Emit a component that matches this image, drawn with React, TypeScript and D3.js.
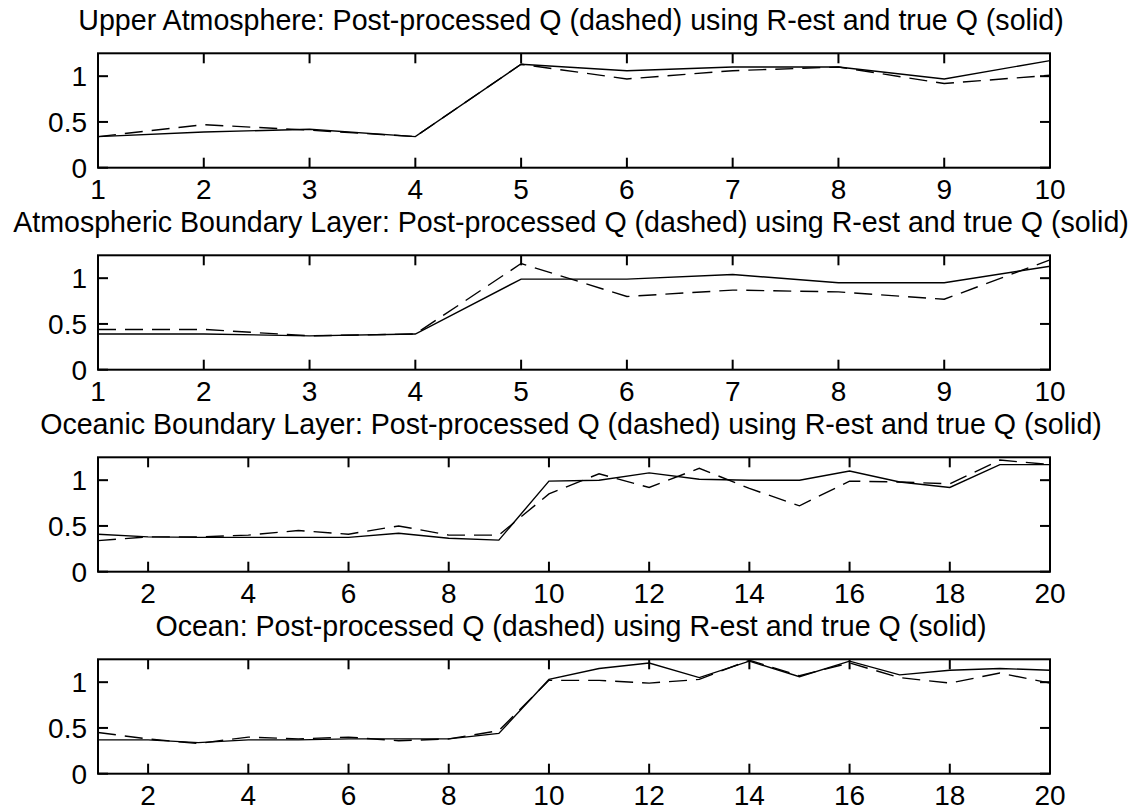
import React from "react";
import * as d3 from "d3";

const titles = [
  "Upper Atmosphere: Post-processed Q (dashed) using R-est and true Q (solid)",
  "Atmospheric Boundary Layer: Post-processed Q (dashed) using R-est and true Q (solid)",
  "Oceanic Boundary Layer: Post-processed Q (dashed) using R-est and true Q (solid)",
  "Ocean: Post-processed Q (dashed) using R-est and true Q (solid)",
];

const upperTrue = [0.34, 0.39, 0.42, 0.34, 1.13, 1.06, 1.1, 1.1, 0.97, 1.17];
const upperPost = [0.34, 0.47, 0.41, 0.34, 1.13, 0.97, 1.06, 1.1, 0.92, 1.01];

const ablTrue = [0.39, 0.39, 0.37, 0.39, 0.99, 0.99, 1.04, 0.95, 0.95, 1.13];
const ablPost = [0.44, 0.44, 0.37, 0.39, 1.16, 0.8, 0.87, 0.85, 0.77, 1.2];

const oblTrue = [0.41, 0.38, 0.375, 0.375, 0.375, 0.375, 0.42, 0.365, 0.345, 0.99,
  1.0, 1.08, 1.01, 1.0, 1.0, 1.1, 0.98, 0.92, 1.17, 1.17];
const oblPost = [0.34, 0.38, 0.38, 0.4, 0.45, 0.41, 0.5, 0.4, 0.4, 0.85,
  1.07, 0.92, 1.13, 0.91, 0.72, 0.99, 0.98, 0.96, 1.22, 1.17];

const oceanTrue = [0.37, 0.37, 0.34, 0.37, 0.37, 0.38, 0.38, 0.38, 0.44, 1.03,
  1.15, 1.21, 1.05, 1.23, 1.06, 1.23, 1.08, 1.13, 1.15, 1.13];
const oceanPost = [0.45, 0.38, 0.33, 0.4, 0.38, 0.4, 0.36, 0.38, 0.47, 1.02,
  1.02, 0.99, 1.03, 1.24, 1.07, 1.21, 1.05, 0.99, 1.1, 0.99];

const xTicks10 = [1, 2, 3, 4, 5, 6, 7, 8, 9, 10];
const xTicks20 = [2, 4, 6, 8, 10, 12, 14, 16, 18, 20];
const yTicks = [0, 0.5, 1];
const yTickLabels = ["0", "0.5", "1"];

const panels = [
  { title: titles[0], solid: upperTrue, dashed: upperPost, ticks: xTicks10 },
  { title: titles[1], solid: ablTrue, dashed: ablPost, ticks: xTicks10 },
  { title: titles[2], solid: oblTrue, dashed: oblPost, ticks: xTicks20 },
  { title: titles[3], solid: oceanTrue, dashed: oceanPost, ticks: xTicks20 },
];

const W = 1130;
const H = 811;
const left = 98;
const right = 1050;
const firstTop = 53.3;
const step = 202;
const ph = 114.4;
const font = "'Liberation Sans', Arial, Helvetica, sans-serif";
const fs = 28;
const titleFs = 28.6;
const tickLen = 10;

function Panel({ p, top }: { p: any; top: number }) {
  const n = p.solid.length;
  const x = d3.scaleLinear().domain([1, n]).range([left, right]);
  const y = d3.scaleLinear().domain([0, 1.25]).range([top + ph, top]);
  const line = d3
    .line<number>()
    .x((_, i) => x(i + 1))
    .y((d) => y(d));
  return (
    <g>
      <text
        x={(left + right) / 2 - 3}
        y={top - 23}
        textAnchor="middle"
        fontFamily={font}
        fontSize={titleFs}
        fill="#000"
      >
        {p.title}
      </text>
      <path d={line(p.solid) || ""} fill="none" stroke="#000" strokeWidth={1.4} />
      <path
        d={line(p.dashed) || ""}
        fill="none"
        stroke="#000"
        strokeWidth={1.4}
        strokeDasharray="18,9"
      />
      <rect
        x={left}
        y={top}
        width={right - left}
        height={ph}
        fill="none"
        stroke="#000"
        strokeWidth={2}
      />
      {p.ticks.map((t: number) => (
        <g key={"x" + t}>
          <line x1={x(t)} x2={x(t)} y1={top + ph} y2={top + ph - tickLen} stroke="#000" strokeWidth={2} />
          <line x1={x(t)} x2={x(t)} y1={top} y2={top + tickLen} stroke="#000" strokeWidth={2} />
          <text
            x={x(t)}
            y={top + ph + 31}
            textAnchor="middle"
            fontFamily={font}
            fontSize={fs}
            fill="#000"
          >
            {t}
          </text>
        </g>
      ))}
      {yTicks.map((t, i) => (
        <g key={"y" + t}>
          <line x1={left} x2={left + tickLen} y1={y(t)} y2={y(t)} stroke="#000" strokeWidth={2} />
          <line x1={right} x2={right - tickLen} y1={y(t)} y2={y(t)} stroke="#000" strokeWidth={2} />
          <text
            x={left - 11}
            y={y(t) + 10}
            textAnchor="end"
            fontFamily={font}
            fontSize={fs}
            fill="#000"
          >
            {yTickLabels[i]}
          </text>
        </g>
      ))}
    </g>
  );
}

export default function App() {
  return (
    <svg
      width={W}
      height={H}
      style={{ position: "absolute", left: 0, top: 0, background: "#fff" }}
    >
      <rect x={0} y={0} width={W} height={H} fill="#fff" />
      {panels.map((p, i) => (
        <Panel key={i} p={p} top={firstTop + i * step} />
      ))}
    </svg>
  );
}
